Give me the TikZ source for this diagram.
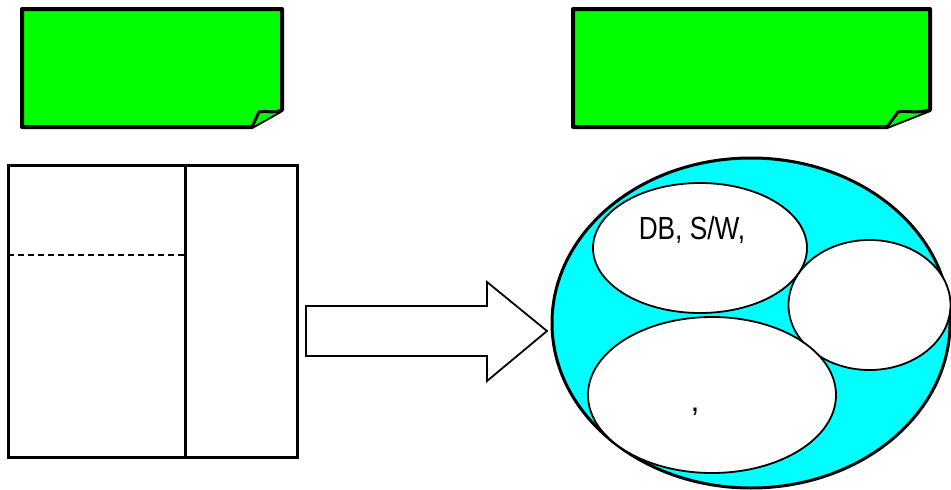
\documentclass[tikz,border=0pt]{standalone}
\usepackage{fontspec}
\setmainfont{Liberation Sans}
\usetikzlibrary{shapes.geometric}
\definecolor{notegreen}{RGB}{0,255,0}
\definecolor{poolcyan}{RGB}{0,255,255}
\tikzset{
  note/.style={fill=notegreen,draw=black,line width=4pt,line join=round},
  frame/.style={draw=black,line width=3pt},
  blob/.style={ellipse,draw=black,fill=white,line width=1.8pt,inner sep=0pt},
  pool/.style={ellipse,draw=black,fill=poolcyan,line width=3pt,inner sep=0pt},
  bigarrow/.style={draw=black,fill=white,line width=1.8pt,line join=miter},
  lbl/.style={font=\fontsize{32}{34}\selectfont,inner sep=0pt}
}
\begin{document}
\begin{tikzpicture}[x=1pt,y=-1pt]
\useasboundingbox (0,0) rectangle (951,490);
% notes
\draw[note] (22,9) -- (282,9) -- (282,110) -- (252,127) -- (22,127) -- cycle;
\draw[note,line width=3pt] (282,110) .. controls (272,114) and (266,110) .. (259,112) -- (252,127);
\draw[note] (573,9) -- (930,9) -- (930,110) -- (887,127) -- (573,127) -- cycle;
\draw[note,line width=3pt] (930,110) .. controls (915,114) and (906,110) .. (898,112) -- (887,127);
% left frame
\node[frame,minimum width=289pt,minimum height=292pt,inner sep=0pt] (tbl) at (152.5,311) {};
\coordinate (divtop) at (185,165);
\coordinate (divbot) at (185,457);
\draw[frame] (divtop) -- (divbot);
\coordinate (dashl) at (8,255);
\coordinate (dashr) at (185,255);
\draw[draw=black,line width=2pt,dash pattern=on 6pt off 4pt] (dashl) -- (dashr);
% block arrow
\draw[bigarrow] (306,306) -- (487,306) -- (487,282) -- (547,331) -- (487,381) -- (487,356) -- (306,356) -- cycle;
% pool
\node[pool,minimum width=398pt,minimum height=330pt] (pool) at (751,323) {};
\node[blob,minimum width=214pt,minimum height=130pt] (e1) at (700,248) {};
\node[blob,minimum width=162pt,minimum height=130pt] (e2) at (869.5,305) {};
\node[blob,minimum width=248pt,minimum height=156pt] (e3) at (712,395) {};
\node[lbl,xscale=0.82] (t1) at (692,230) {DB, S/W,};
\node[lbl] (t2) at (695,412) {,};
\end{tikzpicture}
\end{document}
